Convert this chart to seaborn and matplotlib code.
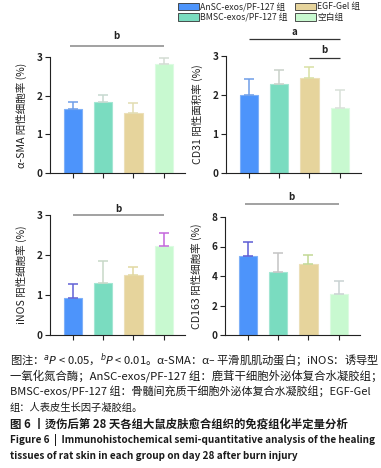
import matplotlib
matplotlib.use("Agg")
import matplotlib.pyplot as plt
import seaborn as sns
import numpy as np
import pandas as pd
from matplotlib.patches import Patch

sns.set_theme(style="white")
plt.rcParams['font.family'] = ['Noto Sans CJK SC', 'DejaVu Sans']
plt.rcParams['mathtext.fontset'] = 'dejavusans'

groups = ["AnSC-exos/PF-127 组", "BMSC-exos/PF-127 组", "EGF-Gel 组", "空白组"]
bar_colors = ["#4d94fb", "#7adcc0", "#e6d49c", "#c8f9d0"]
edge_colors = ["#7fb0f8", "#a3e6d3", "#ecdfb8", "#dcfbe2"]

sma_mean = [1.65, 1.84, 1.56, 2.81]
sma_sd = [0.18, 0.17, 0.24, 0.17]
cd31_mean = [2.01, 2.28, 2.43, 1.66]
cd31_sd = [0.41, 0.35, 0.29, 0.46]
inos_mean = [0.92, 1.31, 1.51, 2.22]
inos_sd = [0.36, 0.55, 0.18, 0.32]
cd163_mean = [5.38, 4.30, 4.78, 2.75]
cd163_sd = [0.95, 1.25, 0.62, 0.90]

ylabels = ["α-SMA 阳性细胞率 (%)", "CD31 阳性面积率 (%)",
           "iNOS 阳性细胞率 (%)", "CD163 阳性细胞率 (%)"]

err_colors = [
    ["#6f9ee8", "#c6d9d0", "#e2ddb2", "#d3dcd3"],
    ["#6f9ee8", "#c9d1c9", "#d9e0a4", "#d9e0d9"],
    ["#6262d6", "#c8d8c8", "#e2d9a2", "#c466dc"],
    ["#5c5cd4", "#c4c4c4", "#c2d994", "#c9d2d2"],
]

W, H = 381, 468
fig = plt.figure(figsize=(W / 100, H / 100), dpi=100)

def ax_rect(left_px, zero_px, top_px, width_px=135):
    return [left_px / W, 1 - zero_px / H, width_px / W, (zero_px - top_px) / H]

specs = [
    (ax_rect(50, 173, 57), sma_mean, sma_sd, (0, 3), [0, 1, 2, 3]),
    (ax_rect(226, 173, 56), cd31_mean, cd31_sd, (0, 3), [0, 1, 2, 3]),
    (ax_rect(50, 335, 215), inos_mean, inos_sd, (0, 3), [0, 1, 2, 3]),
    (ax_rect(225, 335, 217), cd163_mean, cd163_sd, (0, 8), [0, 2, 4, 6, 8]),
]

axes = []
for i, (rect, means, sds, ylim, yticks) in enumerate(specs):
    ax = fig.add_axes(rect)
    df = pd.DataFrame({"group": groups, "value": means})
    sns.barplot(data=df, x="group", y="value", hue="group", palette=bar_colors,
                legend=False, ax=ax, width=0.6, errorbar=None, saturation=1)
    for p, ec in zip(ax.patches, edge_colors):
        p.set_edgecolor(ec)
        p.set_linewidth(0.8)
    for j, (m, s) in enumerate(zip(means, sds)):
        ax.errorbar(j, m, yerr=[[0], [s]], fmt="none", ecolor=err_colors[i][j],
                    elinewidth=1.1, capsize=3.5, capthick=1.1, zorder=1)
    ax.set_ylim(*ylim)
    ax.set_xlim(-0.75, 3.7)
    ax.set_yticks(yticks)
    ax.set_xticks(range(4))
    ax.set_xticklabels([])
    ax.set_xlabel("")
    ax.set_ylabel(ylabels[i], fontsize=7.6, color="#222222", labelpad=7)
    for sp in ["top", "right"]:
        ax.spines[sp].set_visible(False)
    for sp in ["left", "bottom"]:
        ax.spines[sp].set_color("#222222")
        ax.spines[sp].set_linewidth(0.8)
    ax.tick_params(axis="both", direction="out", length=3.5, width=0.8,
                   color="#222222", labelsize=7.2, labelcolor="#222222", pad=2,
                   left=True, bottom=True)
    for t in ax.get_yticklabels():
        t.set_fontweight("bold")
    axes.append(ax)

def sig(ax, x0, x1, y, ty, label, color="#9a9a9a", lw=1.3):
    ax.plot([x0, x1], [y, y], color=color, lw=lw, clip_on=False, solid_capstyle="butt")
    ax.text((x0 + x1) / 2, ty, label, ha="center", va="center", fontsize=7,
            fontweight="bold", color="#222222", clip_on=False)

sig(axes[0], -0.1, 3.0, 3.28, 3.55, "b")
sig(axes[1], 0.0, 3.0, 3.43, 3.62, "a", color="#333333", lw=0.9)
sig(axes[1], 2.0, 3.0, 2.95, 3.15, "b", color="#333333", lw=0.9)
sig(axes[2], 0.0, 3.0, 3.0, 3.14, "b")
sig(axes[3], -0.1, 3.0, 8.88, 9.35, "b")

handles = [Patch(facecolor=c, edgecolor="#333333", linewidth=0.6) for c in bar_colors]
fig.legend(handles, groups,
           loc="upper left", bbox_to_anchor=(176 / W, 1 - 0 / H), ncol=2,
           frameon=False, fontsize=6.3, handlelength=2.4, handleheight=0.9,
           handletextpad=0.15, columnspacing=0.8, labelspacing=0.2,
           borderpad=0.15, borderaxespad=0.1)

cap = [
    (r"图注：$^{a}\it{P}$ < 0.05，$^{b}\it{P}$ < 0.01。α-SMA：α– 平滑肌肌动蛋白；iNOS：诱导型", "normal"),
    ("一氧化氮合酶；AnSC-exos/PF-127 组：鹿茸干细胞外泌体复合水凝胶组；", "normal"),
    ("BMSC-exos/PF-127 组：骨髓间充质干细胞外泌体复合水凝胶组；EGF-Gel", "normal"),
    ("组：人表皮生长因子凝胶组。", "normal"),
    ("图 6 丨烫伤后第 28 天各组大鼠皮肤愈合组织的免疫组化半定量分析", "bold"),
    ("Figure 6  |  Immunohistochemical semi-quantitative analysis of the healing", "bold"),
    ("tissues of rat skin in each group on day 28 after burn injury", "bold"),
]
ys = [360, 376, 392, 408, 424, 440, 456]
sizes = [8.1, 8.2, 7.95, 7.4, 8.2, 7.2, 7.2]
for (txt, wt), y, fs in zip(cap, ys, sizes):
    fig.text(10 / W, 1 - y / H, txt, fontsize=fs, fontweight=wt, color="#1a1a1a",
             ha="left", va="center")

fig.savefig("out.png", dpi=100, facecolor="white")
